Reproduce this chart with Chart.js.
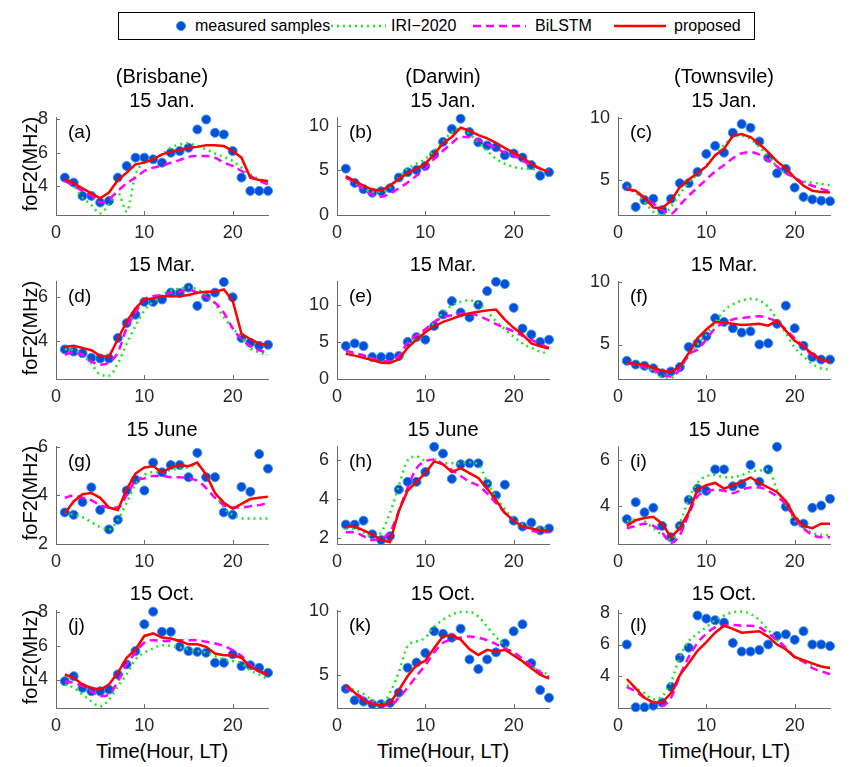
<!DOCTYPE html>
<html>
<head>
<meta charset="utf-8">
<script src="https://cdn.jsdelivr.net/npm/chart.js@4.4.0/dist/chart.umd.min.js"></script>
<style>
body { margin: 0; background: #fff; width: 853px; height: 767px; position: relative; overflow: hidden;
       font-family: "Liberation Sans", Arial, sans-serif; }
.box { position: absolute; }
.t { position: absolute; white-space: nowrap; color: #000; font-size: 20px; transform: translate(-50%, -50%); }
.lt { position: absolute; white-space: nowrap; color: #000; font-size: 16px; top: 4px; }
#legend { position: absolute; left: 118px; top: 12px; width: 637px; height: 28px; border: 1px solid #000;
          box-sizing: border-box; background: #fff; }
</style>
</head>
<body>
<div id="legend">
  <svg width="635" height="26" style="position:absolute;left:0;top:0">
    <circle cx="62" cy="13" r="4.5" fill="#0050d8" stroke="#3d8ef0" stroke-width="1"/>
    <line x1="212" y1="13" x2="267" y2="13" stroke="#1ee61e" stroke-width="2.5" stroke-dasharray="2,4"/>
    <line x1="354" y1="13" x2="407" y2="13" stroke="#ff00ff" stroke-width="2.5" stroke-dasharray="8,5"/>
    <line x1="495" y1="13" x2="547" y2="13" stroke="#ff0000" stroke-width="2.5"/>
  </svg>
  <span class="lt" style="left:76px">measured samples</span>
  <span class="lt" style="left:272px">IRI−2020</span>
  <span class="lt" style="left:416px">BiLSTM</span>
  <span class="lt" style="left:555px">proposed</span>
</div>
<script>
// hours of the day
var hours = [1,2,3,4,5,6,7,8,9,10,11,12,13,14,15,16,17,18,19,20,21,22,23,24];
var xTicks = [0, 10, 20];

var colNames = ['(Brisbane)', '(Darwin)', '(Townsvile)'];
var rowDates = ['15 Jan.', '15 Mar.', '15 June', '15 Oct.'];
var letters = ['(a)','(b)','(c)','(d)','(e)','(f)','(g)','(h)','(i)','(j)','(k)','(l)'];

// (a) Brisbane, Jan
var measA = [4.5,4.2,3.4,3.4,3.0,3.1,4.5,5.2,5.7,5.7,5.6,5.4,6.0,6.1,6.3,7.4,8.0,7.2,7.1,6.1,4.5,3.7,3.7,3.7];
var iriA  = [4.3,4.0,3.3,2.85,2.35,2.9,3.6,2.45,4.7,5.4,5.65,5.9,6.3,6.5,6.55,6.4,6.2,5.95,5.75,5.5,5.1,4.7,4.4,4.2];
var lstmA = [4.3,4.0,3.7,3.4,3.0,3.2,3.7,4.15,4.5,4.9,5.1,5.2,5.4,5.55,5.75,5.8,5.8,5.7,5.4,5.2,4.9,4.6,4.3,4.1];
var propA = [4.4,4.15,3.85,3.55,3.25,3.6,4.35,4.8,5.3,5.4,5.6,5.9,6.05,6.15,6.3,6.35,6.45,6.45,6.4,6.1,5.7,4.5,4.35,4.3];
// (b) Darwin, Jan
var measB = [5.2,3.6,2.9,2.5,2.65,3.0,4.2,4.8,5.05,5.5,6.8,8.2,9.65,10.8,9.3,8.15,7.8,7.6,6.7,6.9,6.45,5.6,4.4,4.8];
var iriB  = [4.2,3.65,3.0,2.6,2.65,3.1,4.2,5.2,5.75,6.3,7.2,8.2,9.3,9.7,9.1,8.1,7.2,6.3,5.75,5.4,5.2,5.15,5.1,5.0];
var lstmB = [4.2,3.65,2.85,2.3,2.05,2.4,3.0,3.65,4.4,5.2,6.3,7.2,8.05,8.75,8.75,8.4,7.95,7.5,7.0,6.65,6.1,5.6,5.2,4.9];
var propB = [4.35,3.8,3.3,2.85,2.75,3.3,4.05,4.7,5.2,5.75,6.8,8.05,8.75,9.8,9.45,8.95,8.6,8.1,7.5,7.0,6.45,5.75,5.2,4.8];
// (c) Townsvile, Jan
var measC = [4.5,2.85,3.4,3.5,2.6,3.5,4.75,4.75,5.65,7.1,7.75,7.2,8.8,9.5,9.2,8.1,6.8,5.55,5.9,4.4,3.65,3.45,3.35,3.3];
var iriC  = [4.5,4.0,3.25,2.45,2.2,2.85,3.9,4.8,5.45,6.2,7.0,7.8,8.45,8.55,8.3,7.65,6.9,6.1,5.55,5.2,4.9,4.8,4.7,4.6];
var lstmC = [4.4,4.0,3.6,3.1,2.6,2.3,3.0,3.75,4.4,5.05,5.7,6.2,6.75,7.15,7.25,7.05,6.6,6.1,5.55,5.2,4.8,4.55,4.3,4.1];
var propC = [4.27,4.15,3.6,2.8,2.75,3.35,4.45,5.05,5.55,6.1,7.0,7.5,8.55,8.7,8.45,7.9,7.25,6.5,5.95,5.2,4.55,4.15,4.05,4.0];
// (d) Brisbane, Mar
var measD = [3.64,3.54,3.47,3.26,3.23,3.23,4.16,4.83,5.21,5.79,5.79,5.9,6.21,6.19,6.44,5.61,6.0,6.21,6.69,6.0,4.16,3.94,3.8,3.85];
var iriD  = [3.65,3.6,3.4,3.0,2.5,2.45,3.0,3.9,4.7,5.4,5.8,6.1,6.3,6.4,6.45,6.35,6.1,5.7,5.1,4.6,4.2,3.7,3.5,3.4];
var lstmD = [3.4,3.5,3.4,3.1,2.95,3.05,3.5,4.6,5.3,5.9,6.05,6.1,6.2,6.25,6.35,6.2,6.0,5.75,5.3,4.6,4.1,3.8,3.6,3.5];
var propD = [3.75,3.8,3.7,3.6,3.35,3.3,4.1,4.9,5.5,5.9,5.95,6.05,6.05,6.05,6.1,6.2,6.25,6.25,6.35,5.85,4.35,4.1,3.9,3.85];
// (e) Darwin, Mar
var measE = [4.45,4.8,4.45,2.95,2.95,3.0,3.1,5.0,5.65,5.3,7.15,8.7,10.5,8.95,8.3,10.0,11.85,13.1,12.8,9.6,6.8,6.0,5.0,5.3];
var iriE  = [3.5,3.3,3.0,2.7,2.3,2.3,3.0,4.4,5.7,6.6,7.6,8.9,9.9,10.4,10.6,10.2,9.1,7.8,6.7,5.7,4.8,4.2,3.7,3.4];
var lstmE = [3.8,3.5,3.2,2.8,2.4,2.4,3.2,4.9,5.9,6.7,7.7,8.3,8.6,8.8,8.85,8.5,8.0,7.4,6.9,6.4,5.8,5.3,4.7,4.2];
var propE = [3.4,3.15,2.85,2.55,2.2,2.15,2.65,4.2,5.3,6.3,7.1,7.7,8.1,8.55,8.85,9.05,9.25,9.35,8.0,6.9,6.0,4.8,4.4,4.1];
// (f) Townsvile, Mar
var measF = [3.7,3.4,3.3,3.1,2.7,2.85,3.2,4.8,5.1,5.65,7.1,6.8,6.3,5.95,6.05,5.0,5.1,6.65,8.1,6.3,4.9,4.0,3.8,3.8];
var iriF  = [3.5,3.4,3.2,2.9,2.4,2.35,3.1,4.05,5.0,5.8,6.75,7.7,8.2,8.5,8.65,8.5,8.0,7.0,5.9,4.75,4.05,3.45,3.1,3.0];
var lstmF = [3.5,3.4,3.2,3.0,2.6,2.45,3.0,4.2,4.6,5.4,6.3,6.7,7.0,7.1,7.2,7.25,7.1,6.8,6.2,5.5,4.9,4.1,3.8,3.5];
var propF = [3.55,3.45,3.4,3.15,2.9,2.8,3.25,4.3,5.5,6.2,6.8,6.75,6.65,6.55,6.6,6.65,6.5,6.9,6.1,5.3,4.85,4.25,3.8,3.6];
// (g) Brisbane, June
var measG = [3.3,3.2,3.73,4.33,3.4,2.6,3.0,4.2,4.65,4.2,5.35,4.95,5.25,5.25,4.75,5.75,4.75,4.75,3.3,3.2,4.35,4.15,5.7,5.1];
var iriG  = [3.3,3.2,3.1,2.9,2.7,2.6,3.0,3.7,4.45,4.85,4.95,4.95,5.05,5.1,5.15,5.25,4.85,4.1,3.5,3.2,3.05,3.05,3.05,3.05];
var lstmG = [3.9,4.0,3.9,3.8,3.6,3.5,3.5,4.0,4.6,4.7,4.8,4.8,4.75,4.75,4.7,4.6,4.3,3.9,3.6,3.5,3.5,3.55,3.6,3.7];
var propG = [3.27,3.75,4.05,4.1,3.9,3.5,3.4,4.25,4.9,5.15,5.2,4.95,5.15,5.25,5.2,5.35,4.85,4.1,3.7,3.45,3.65,3.85,3.9,3.95];
// (h) Darwin, June
var measH = [2.7,2.7,2.9,2.2,1.9,2.1,4.5,4.9,4.9,5.4,6.7,6.35,5.05,5.8,5.85,5.85,4.8,4.2,4.75,2.9,2.6,2.8,2.4,2.5];
var iriH  = [2.5,2.5,2.3,2.1,2.3,3.3,4.7,6.0,6.2,6.0,6.05,5.85,5.85,5.85,5.9,5.8,4.9,4.1,3.5,2.95,2.7,2.5,2.5,2.5];
var lstmH = [2.3,2.3,2.1,1.9,2.0,2.3,3.4,4.6,5.6,5.95,6.05,5.8,5.5,5.2,4.9,4.7,4.3,3.8,3.3,2.9,2.6,2.4,2.3,2.3];
var propH = [2.6,2.6,2.4,2.2,1.9,1.8,3.4,4.45,4.9,5.35,5.95,5.8,5.4,5.6,5.35,5.1,4.55,3.95,3.3,2.9,2.6,2.5,2.4,2.4];
// (i) Townsvile, June
var measI = [3.4,4.15,3.7,3.9,3.1,2.6,3.1,4.25,4.75,4.65,5.6,5.6,4.85,4.95,5.8,5.05,5.6,6.6,3.95,3.3,3.2,3.9,4.0,4.3];
var iriI  = [3.3,3.4,3.3,3.0,2.7,2.5,3.2,4.3,5.0,5.3,5.35,5.25,5.25,5.35,5.5,5.55,5.6,4.7,4.05,3.35,3.0,2.8,2.7,2.7];
var lstmI = [3.0,3.1,3.2,3.1,2.8,2.35,2.7,3.6,4.4,4.6,4.7,4.65,4.55,4.7,4.8,4.8,4.65,4.4,4.05,3.45,3.0,2.7,2.6,2.6];
var propI = [3.1,3.35,3.45,3.5,3.2,2.6,3.0,3.7,4.7,4.9,5.0,4.75,4.9,5.05,5.25,5.0,4.8,4.6,4.2,3.5,3.1,3.0,3.2,3.2];
// (j) Brisbane, Oct
var measJ = [3.9,4.2,3.5,3.3,3.3,3.4,4.3,4.9,5.7,7.3,8.05,6.85,6.85,5.95,5.7,5.65,5.6,5.0,5.0,5.5,4.8,4.85,4.7,4.4];
var iriJ  = [3.7,3.5,3.1,2.7,2.4,2.8,3.6,4.3,5.2,5.6,5.85,6.05,6.0,5.9,5.8,5.7,5.6,5.4,5.2,5.1,4.95,4.55,4.3,4.0];
var lstmJ = [3.9,3.8,3.6,3.3,3.0,3.1,3.9,4.9,5.6,6.2,6.35,6.3,6.3,6.35,6.35,6.35,6.25,6.15,6.0,5.75,5.4,4.85,4.5,4.2];
var propJ = [4.3,4.1,3.7,3.5,3.4,3.7,4.4,5.3,5.8,6.6,6.75,6.5,6.45,6.3,6.1,6.1,5.95,5.55,5.45,5.45,5.3,4.75,4.5,4.3];
// (k) Darwin, Oct
var measK = [3.9,3.0,2.9,2.7,2.7,2.8,3.6,5.55,5.95,6.7,8.4,8.2,7.9,8.6,6.2,5.45,6.2,6.75,7.45,8.4,8.95,5.9,3.8,3.2];
var iriK  = [4.0,3.8,3.5,3.0,2.7,3.6,5.2,7.25,7.6,7.9,8.75,9.3,9.7,9.9,9.9,9.55,8.75,7.95,7.3,6.6,6.05,5.6,5.3,5.0];
var lstmK = [4.0,3.6,3.2,2.8,2.6,2.6,3.2,4.0,4.9,5.75,6.75,7.5,7.75,7.9,8.0,7.9,7.7,7.4,7.05,6.75,6.25,5.75,5.2,4.8];
var propK = [4.2,3.6,3.0,2.7,2.6,2.8,3.8,4.9,5.75,6.1,7.1,8.0,8.1,7.75,7.0,6.55,6.95,6.8,6.95,6.5,6.05,5.5,5.0,4.7];
// (l) Townsvile, Oct
var measL = [6.0,2.0,2.0,2.1,2.3,3.3,5.15,5.8,7.85,7.65,7.55,7.4,6.1,5.55,5.55,5.65,6.0,6.55,6.65,6.3,6.85,6.0,6.0,5.9];
var iriL  = [3.4,3.2,2.9,2.5,2.7,3.6,5.2,6.2,6.7,7.1,7.55,7.85,8.05,8.1,7.95,7.55,6.95,6.3,5.7,5.2,4.9,4.7,4.6,4.5];
var lstmL = [3.3,3.0,2.6,2.3,2.1,2.6,4.0,5.2,6.1,6.7,7.1,7.2,7.25,7.2,7.2,7.1,6.7,6.3,5.8,5.2,4.9,4.5,4.3,4.1];
var propL = [3.8,3.2,2.6,2.3,2.3,2.9,4.05,4.8,5.6,6.15,6.75,7.2,7.0,6.75,6.8,6.85,6.5,6.0,5.7,5.2,5.0,4.8,4.6,4.5];

// y limits and y tick values per panel
var yLim = [[2.25,8.1],[0,10.9],[2.2,10],[2.3,6.7],[0,13.1],[2.25,10],
            [2,6],[1.7,6.7],[2.3,6.6],[2.3,8.1],[2.4,10],[1.95,8.15]];
var yTicks = [[4,6,8],[0,5,10],[5,10],[4,6],[0,5,10],[5,10],
              [2,4,6],[2,4,6],[4,6],[4,6,8],[5,10],[4,6,8]];

var measAll = [measA,measB,measC,measD,measE,measF,measG,measH,measI,measJ,measK,measL];
var iriAll  = [iriA,iriB,iriC,iriD,iriE,iriF,iriG,iriH,iriI,iriJ,iriK,iriL];
var lstmAll = [lstmA,lstmB,lstmC,lstmD,lstmE,lstmF,lstmG,lstmH,lstmI,lstmJ,lstmK,lstmL];
var propAll = [propA,propB,propC,propD,propE,propF,propG,propH,propI,propJ,propK,propL];

// layout
var colLeft = [56, 337, 618];
var rowTop = [113, 277, 442, 606];
var plotW = 212, plotH = 102;
var PADL = 46, PADT = 14, PADR = 14, PADB = 30;
var FONT = '"Liberation Sans", Arial, sans-serif';
var AXIS = '#6b6b6b';

function pts(vals) {
    return hours.map(function (h, i) { return { x: h, y: vals[i] }; });
}

function addText(txt, x, y, extra) {
    var d = document.createElement('div');
    d.className = 't';
    d.textContent = txt;
    d.style.left = x + 'px';
    d.style.top = y + 'px';
    if (extra) d.style.transform = extra;
    document.body.appendChild(d);
}

var innerTicks = {
    id: 'innerTicks',
    afterDraw: function (chart) {
        var ctx = chart.ctx, a = chart.chartArea, xs = chart.scales.x, ys = chart.scales.y;
        ctx.save();
        ctx.strokeStyle = AXIS;
        ctx.lineWidth = 1;
        ctx.beginPath();
        xs.ticks.forEach(function (t) {
            var px = Math.round(xs.getPixelForValue(t.value)) + 0.5;
            ctx.moveTo(px, a.bottom);
            ctx.lineTo(px, a.bottom - 4);
        });
        ys.ticks.forEach(function (t) {
            var py = Math.round(ys.getPixelForValue(t.value)) + 0.5;
            ctx.moveTo(a.left, py);
            ctx.lineTo(a.left + 4, py);
        });
        ctx.stroke();
        ctx.restore();
    }
};

function drawPanel(k) {
    var col = k % 3, row = Math.floor(k / 3);
    var box = document.createElement('div');
    box.className = 'box';
    box.style.left = (colLeft[col] - PADL) + 'px';
    box.style.top = (rowTop[row] - PADT) + 'px';
    box.style.width = (plotW + PADL + PADR) + 'px';
    box.style.height = (plotH + PADT + PADB) + 'px';
    var cv = document.createElement('canvas');
    box.appendChild(cv);
    document.body.appendChild(box);

    var tickFont = { size: 18, family: FONT };
    new Chart(cv, {
        type: 'line',
        data: {
            datasets: [
                { label: 'proposed', data: pts(propAll[k]), borderColor: '#ff0000', borderWidth: 2.5,
                  pointRadius: 0, tension: 0, order: 1, clip: 3 },
                { label: 'BiLSTM', data: pts(lstmAll[k]), borderColor: '#ff00ff', borderWidth: 2.5,
                  borderDash: [8, 5], pointRadius: 0, cubicInterpolationMode: 'monotone', order: 2, clip: 3 },
                { label: 'IRI-2020', data: pts(iriAll[k]), borderColor: '#1ee61e', borderWidth: 2.5,
                  borderDash: [2, 4], pointRadius: 0, cubicInterpolationMode: 'monotone', order: 3, clip: 3 },
                { label: 'measured samples', data: pts(measAll[k]), showLine: false, pointRadius: 4.5,
                  pointBackgroundColor: '#0050d8', pointBorderColor: '#3d8ef0', pointBorderWidth: 1,
                  order: 4, clip: false }
            ]
        },
        options: {
            responsive: true,
            maintainAspectRatio: false,
            animation: false,
            devicePixelRatio: 1,
            layout: { padding: { top: PADT, right: PADR, left: 0, bottom: 0 } },
            plugins: { legend: { display: false }, tooltip: { enabled: false } },
            scales: {
                x: {
                    type: 'linear', min: 0, max: 24,
                    afterBuildTicks: function (s) { s.ticks = xTicks.map(function (v) { return { value: v }; }); },
                    afterFit: function (s) { s.height = PADB; },
                    grid: { display: false, drawTicks: false },
                    border: { color: AXIS, width: 1 },
                    ticks: { padding: 7, font: tickFont, color: '#262626', maxRotation: 0, autoSkip: false }
                },
                y: {
                    type: 'linear', min: yLim[k][0], max: yLim[k][1],
                    afterBuildTicks: function (s) { s.ticks = yTicks[k].map(function (v) { return { value: v }; }); },
                    afterFit: function (s) { s.width = PADL; },
                    grid: { display: false, drawTicks: false },
                    border: { color: AXIS, width: 1 },
                    ticks: { padding: 8, font: tickFont, color: '#262626', autoSkip: false }
                }
            }
        },
        plugins: [innerTicks]
    });

    var cx = colLeft[col] + plotW / 2;
    addText(rowDates[row], cx, rowTop[row] - 13);
    var lt = document.createElement('div');
    lt.className = 't';
    lt.textContent = letters[k];
    lt.style.fontSize = '19px';
    lt.style.transform = 'translate(0,-50%)';
    lt.style.left = (colLeft[col] + 12) + 'px';
    lt.style.top = (rowTop[row] + 19) + 'px';
    document.body.appendChild(lt);
}

for (var k = 0; k < 12; k++) drawPanel(k);

for (var c = 0; c < 3; c++) {
    var cx = colLeft[c] + plotW / 2;
    addText(colNames[c], cx, 76);
    addText('Time(Hour, LT)', cx, 751);
}
for (var r = 0; r < 4; r++) {
    addText('foF2(MHz)', 30, rowTop[r] + plotH / 2, 'translate(-50%,-50%) rotate(-90deg)');
}
</script>
</body>
</html>
